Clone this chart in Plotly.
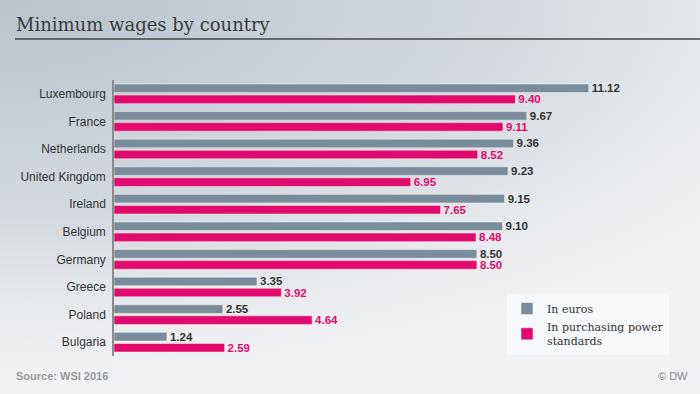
import base64
import plotly.graph_objects as go

countries = ["Luxembourg", "France", "Netherlands", "United Kingdom", "Ireland",
             "Belgium", "Germany", "Greece", "Poland", "Bulgaria"]
euros = [11.12, 9.67, 9.36, 9.23, 9.15, 9.10, 8.50, 3.35, 2.55, 1.24]
pps = [9.40, 9.11, 8.52, 6.95, 7.65, 8.48, 8.50, 3.92, 4.64, 2.59]

W, H = 700, 394
ML, MR, MT, MB = 114, 31, 80, 38
PW, PH = W - ML - MR, H - MT - MB

GREY = "#7a8c9c"
MAGENTA = "#e00b6d"

svg = f'''<svg xmlns="http://www.w3.org/2000/svg" width="{W}" height="{H}" viewBox="0 0 {W} {H}">
<defs><radialGradient id="g" gradientUnits="userSpaceOnUse" cx="0" cy="0" r="1" gradientTransform="scale(900,380)">
<stop offset="0" stop-color="#b9c3cd"/><stop offset="0.57" stop-color="#d3d9df"/>
<stop offset="0.8" stop-color="#e6e9ec"/><stop offset="1" stop-color="#f1f2f4"/></radialGradient></defs>
<rect width="{W}" height="{H}" fill="url(#g)"/></svg>'''
src = "data:image/svg+xml;base64," + base64.b64encode(svg.encode()).decode()

fig = go.Figure()
fig.add_trace(go.Bar(
    y=countries, x=euros, orientation="h", name="In euros",
    marker=dict(color=GREY, line=dict(color="rgba(255,255,255,0.6)", width=0.8)),
    texttemplate="%{x:.2f}", textposition="outside", cliponaxis=False, constraintext="none",
    textfont=dict(family="Liberation Sans, Arial", size=11.5, color="#333333", weight="bold"),
    hoverinfo="skip",
))
fig.add_trace(go.Bar(
    y=countries, x=pps, orientation="h", name="In purchasing power<br>standards",
    marker=dict(color=MAGENTA, line=dict(color="rgba(255,255,255,0.6)", width=0.8)),
    texttemplate="%{x:.2f}", textposition="outside", cliponaxis=False, constraintext="none",
    textfont=dict(family="Liberation Sans, Arial", size=11.5, color=MAGENTA, weight="bold"),
    hoverinfo="skip",
))

def px_x(p):
    return (p - ML) / PW

def px_y(p):
    return (H - MB - p) / PH

fig.update_layout(
    width=W, height=H,
    margin=dict(l=ML, r=MR, t=MT, b=MB),
    paper_bgcolor="#f1f2f4", plot_bgcolor="rgba(0,0,0,0)",
    barmode="group", bargap=0.2, bargroupgap=0.22,
    showlegend=True,
    legend=dict(
        x=px_x(507), y=px_y(294), xanchor="left", yanchor="top",
        bgcolor="#f7f8fa", borderwidth=0,
        font=dict(family="DejaVu Serif, Georgia, serif", size=11, color="#333333"),
        traceorder="normal", tracegroupgap=4, itemwidth=30,
    ),
    xaxis=dict(range=[0, 13], visible=False, fixedrange=True),
    yaxis=dict(
        autorange="reversed", showgrid=False, zeroline=False,
        showline=True, linecolor="#8c8c8c", linewidth=1.5,
        ticks="", ticklabelstandoff=4, fixedrange=True,
        tickfont=dict(family="Liberation Sans, Arial", size=12, color="#333333"),
    ),
    images=[dict(source=src, xref="paper", yref="paper",
                 x=px_x(0), y=px_y(0), sizex=W / PW, sizey=H / PH,
                 xanchor="left", yanchor="top", sizing="stretch", layer="below")],
    shapes=[dict(type="line", xref="paper", yref="paper",
                 x0=px_x(15), x1=px_x(700), y0=px_y(39), y1=px_y(39),
                 line=dict(color="#444444", width=1.5))],
    annotations=[
        dict(text="Minimum wages by country", xref="paper", yref="paper",
             x=px_x(14), y=px_y(24), xanchor="left", yanchor="middle", showarrow=False,
             font=dict(family="DejaVu Serif, Georgia, serif", size=18, color="#3a3a3a")),
        dict(text="<b>Source: WSI 2016</b>", xref="paper", yref="paper",
             x=px_x(14), y=px_y(376), xanchor="left", yanchor="middle", showarrow=False,
             font=dict(family="Liberation Sans, Arial", size=11, color="#999999")),
        dict(text="© DW", xref="paper", yref="paper",
             x=px_x(690), y=px_y(376), xanchor="right", yanchor="middle", showarrow=False,
             font=dict(family="Liberation Sans, Arial", size=11, color="#888888")),
    ],
)

fig.write_html("out.html", config={"displayModeBar": False},
               post_script="document.body.style.margin='0';")
